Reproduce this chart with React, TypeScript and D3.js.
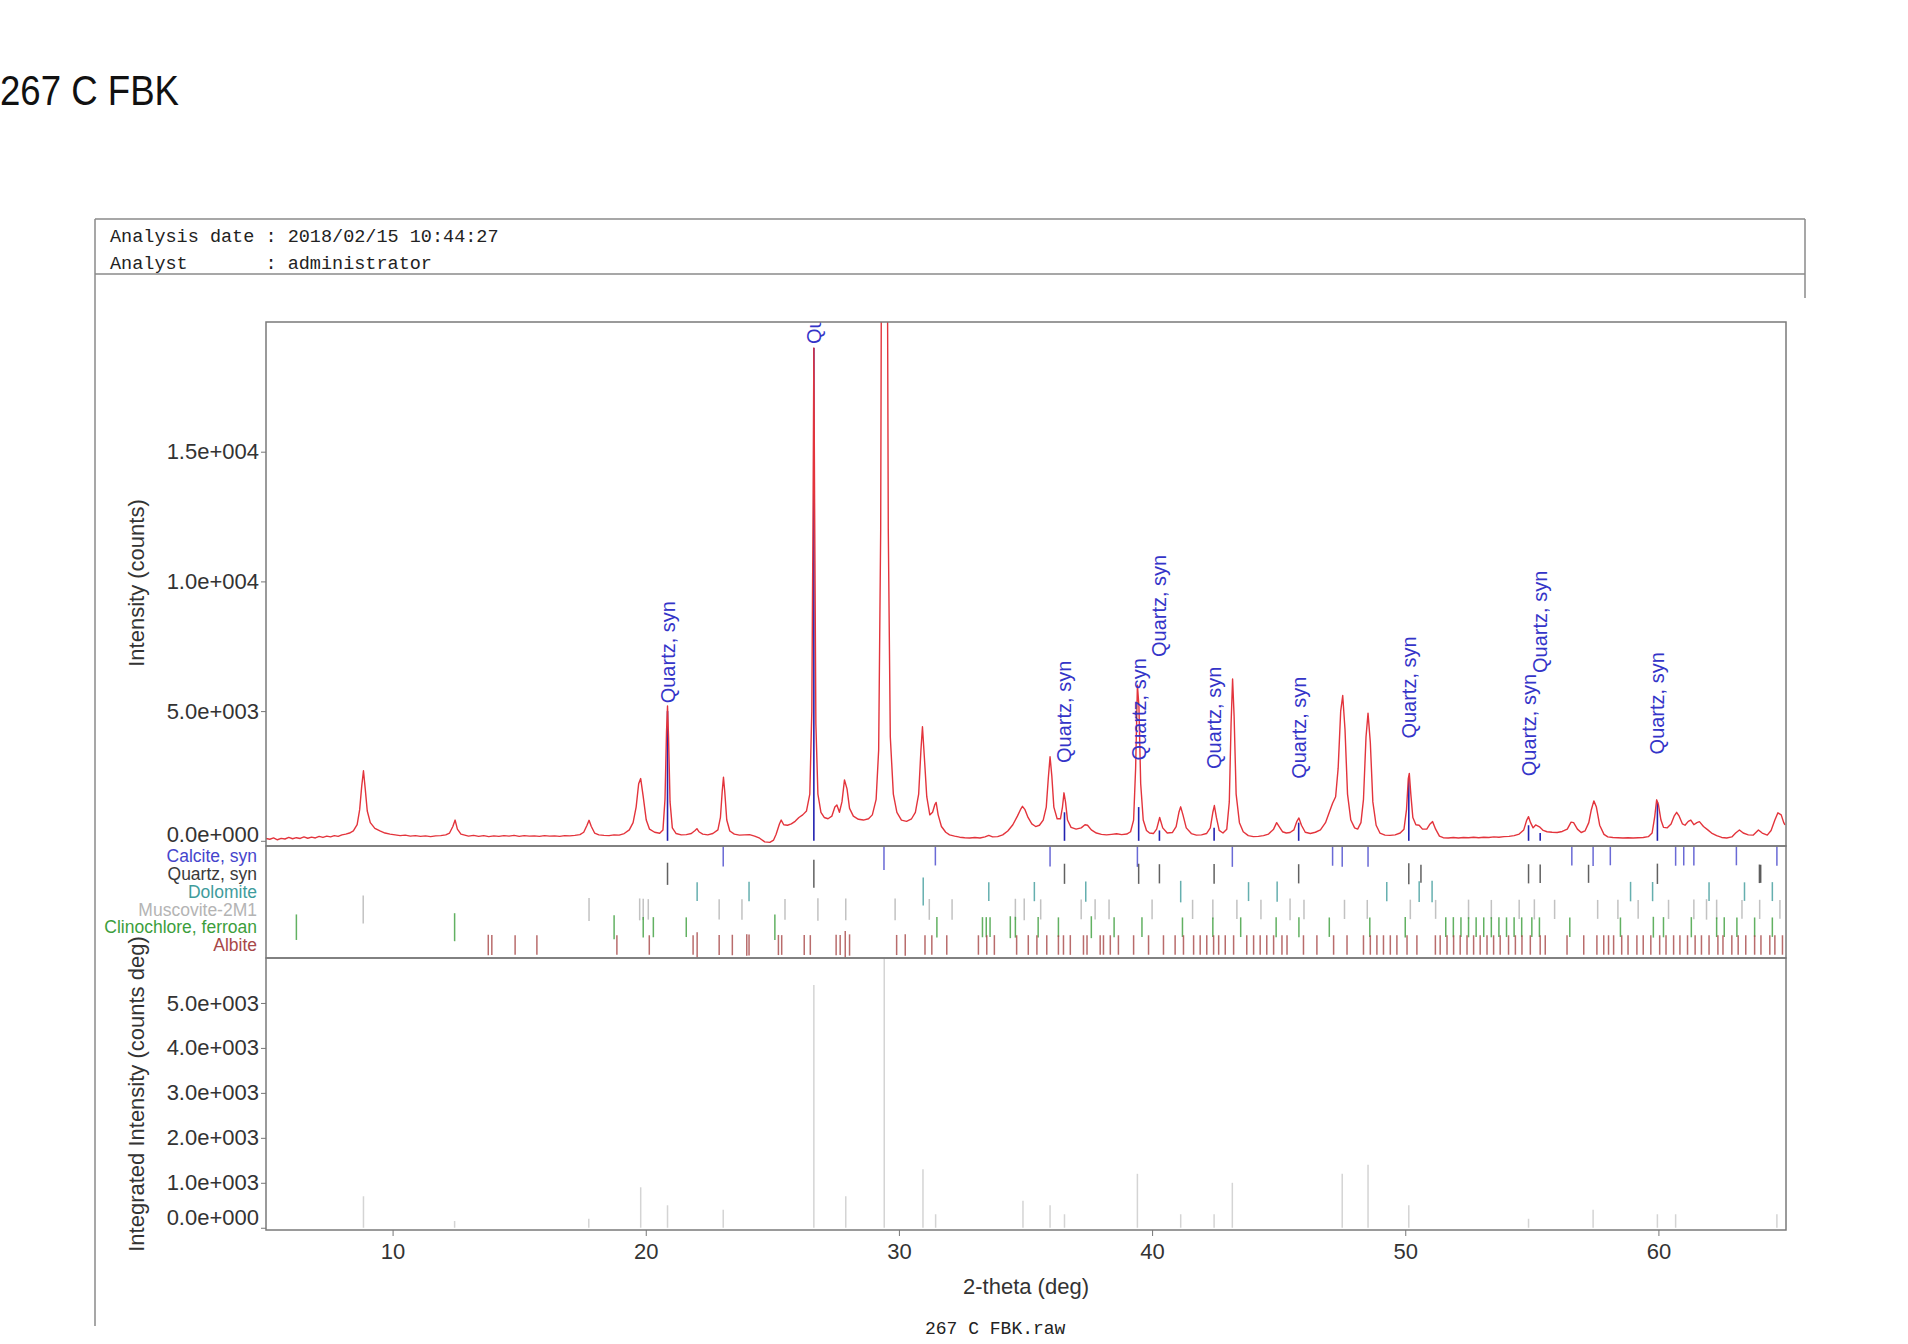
import { useEffect, useRef } from 'react';
import * as d3 from 'd3';

const SANS = "'Liberation Sans', Arial, Helvetica, sans-serif";
const MONO = "'Liberation Mono', 'Courier New', monospace";

// measured profile: [2-theta (deg), intensity (counts)]
const PATTERN: [number, number][] = [
  [5.0, 90], [5.15, 60], [5.3, 110], [5.45, 40], [5.6, 95], [5.75, 70], [5.9, 130], [6.05, 80],
  [6.2, 120], [6.35, 90], [6.5, 150], [6.65, 100], [6.8, 140], [6.95, 110], [7.1, 170], [7.25, 130],
  [7.4, 180], [7.55, 150], [7.7, 200], [7.85, 170], [8.0, 230], [8.15, 260], [8.3, 300], [8.45, 380],
  [8.6, 620], [8.7, 1200], [8.78, 2100], [8.85, 2700], [8.92, 2000], [9.0, 1150], [9.12, 700],
  [9.3, 480], [9.5, 380], [9.7, 300], [9.9, 260], [10.1, 230], [10.3, 200], [10.5, 220], [10.7, 180],
  [10.9, 200], [11.1, 170], [11.3, 190], [11.5, 160], [11.7, 190], [11.9, 200], [12.1, 230],
  [12.25, 300], [12.38, 550], [12.47, 800], [12.56, 450], [12.7, 260], [12.85, 220], [13.0, 180],
  [13.2, 210], [13.4, 170], [13.6, 200], [13.8, 160], [14.0, 190], [14.2, 170], [14.4, 200],
  [14.6, 180], [14.8, 210], [15.0, 170], [15.2, 200], [15.4, 180], [15.6, 190], [15.8, 170],
  [16.0, 200], [16.2, 180], [16.4, 190], [16.6, 170], [16.8, 200], [17.0, 190], [17.2, 210],
  [17.4, 240], [17.55, 330], [17.68, 600], [17.76, 790], [17.85, 550], [17.98, 300], [18.15, 230],
  [18.35, 210], [18.55, 200], [18.75, 230], [18.95, 220], [19.15, 280], [19.35, 420], [19.5, 700],
  [19.62, 1300], [19.72, 2200], [19.8, 2400], [19.9, 1700], [20.02, 800], [20.15, 450], [20.35, 330],
  [20.55, 290], [20.68, 420], [20.76, 1600], [20.82, 4200], [20.86, 5200], [20.9, 4000], [20.96, 1500],
  [21.05, 500], [21.2, 280], [21.4, 230], [21.6, 240], [21.8, 280], [21.95, 400], [22.02, 470],
  [22.1, 350], [22.25, 260], [22.45, 230], [22.65, 280], [22.85, 420], [22.95, 900], [23.02, 1900],
  [23.07, 2450], [23.12, 1900], [23.2, 800], [23.32, 380], [23.5, 260], [23.7, 220], [23.9, 230],
  [24.1, 240], [24.3, 180], [24.5, 100], [24.7, -40], [24.9, -60], [25.05, 30], [25.15, 250],
  [25.28, 650], [25.35, 800], [25.45, 620], [25.6, 600], [25.75, 650], [25.9, 750], [26.05, 900],
  [26.2, 1000], [26.35, 1150], [26.48, 1800], [26.56, 5000], [26.61, 13000], [26.64, 19000],
  [26.67, 13000], [26.72, 4500], [26.8, 1800], [26.92, 1100], [27.05, 900], [27.2, 850], [27.35, 950],
  [27.47, 1300], [27.55, 1380], [27.65, 1100], [27.75, 1500], [27.85, 2350], [27.95, 2000],
  [28.05, 1250], [28.2, 950], [28.4, 830], [28.6, 800], [28.8, 850], [28.95, 1000], [29.1, 1600],
  [29.2, 3500], [29.28, 12000], [29.33, 30000], [29.42, 42000], [29.52, 30000], [29.58, 12000],
  [29.66, 4000], [29.78, 1800], [29.92, 1100], [30.1, 800], [30.3, 750], [30.5, 850], [30.65, 1100],
  [30.78, 1800], [30.87, 3500], [30.93, 4400], [31.0, 3300], [31.1, 1700], [31.22, 1000],
  [31.33, 1100], [31.42, 1400], [31.47, 1480], [31.55, 1000], [31.68, 550], [31.85, 330], [32.0, 230],
  [32.2, 180], [32.4, 140], [32.6, 120], [32.8, 110], [33.0, 130], [33.2, 110], [33.4, 150],
  [33.55, 210], [33.7, 150], [33.9, 160], [34.1, 230], [34.3, 380], [34.5, 620], [34.68, 950],
  [34.8, 1200], [34.88, 1330], [34.98, 1200], [35.1, 900], [35.25, 650], [35.4, 550], [35.55, 600],
  [35.7, 800], [35.82, 1300], [35.9, 2400], [35.97, 3240], [36.04, 2500], [36.12, 1300], [36.25, 850],
  [36.38, 850], [36.46, 1300], [36.52, 1850], [36.58, 1500], [36.66, 800], [36.8, 520], [37.0, 450],
  [37.2, 500], [37.35, 620], [37.45, 600], [37.6, 420], [37.8, 300], [38.0, 250], [38.2, 230],
  [38.4, 250], [38.6, 270], [38.8, 240], [39.0, 260], [39.15, 350], [39.27, 800], [39.35, 2800],
  [39.42, 6000], [39.48, 5200], [39.55, 2200], [39.65, 800], [39.78, 400], [39.9, 300], [40.05, 280],
  [40.18, 450], [40.3, 900], [40.42, 500], [40.6, 300], [40.8, 320], [40.95, 550], [41.06, 1100],
  [41.13, 1310], [41.22, 1000], [41.35, 500], [41.55, 280], [41.75, 220], [41.95, 230], [42.15, 280],
  [42.3, 500], [42.4, 1100], [42.46, 1360], [42.54, 900], [42.65, 400], [42.8, 300], [42.95, 450],
  [43.05, 1500], [43.12, 4500], [43.18, 6240], [43.24, 4800], [43.32, 1800], [43.45, 700],
  [43.6, 350], [43.8, 200], [44.0, 160], [44.2, 170], [44.4, 200], [44.6, 260], [44.8, 450],
  [44.92, 700], [45.02, 550], [45.15, 350], [45.3, 300], [45.45, 320], [45.6, 420], [45.72, 750],
  [45.8, 880], [45.9, 600], [46.05, 330], [46.25, 280], [46.45, 330], [46.65, 420], [46.85, 700],
  [47.0, 1100], [47.13, 1450], [47.25, 1700], [47.35, 2800], [47.45, 5000], [47.53, 5600],
  [47.62, 4300], [47.72, 1800], [47.85, 800], [48.0, 500], [48.12, 450], [48.25, 700], [48.35, 1600],
  [48.45, 4000], [48.53, 4920], [48.62, 3800], [48.72, 1500], [48.85, 600], [49.0, 300], [49.2, 220],
  [49.4, 210], [49.6, 230], [49.8, 300], [49.95, 450], [50.05, 1200], [50.12, 2400], [50.16, 2600],
  [50.22, 1800], [50.3, 900], [50.42, 620], [50.55, 600], [50.68, 450], [50.85, 450], [50.98, 650],
  [51.08, 740], [51.2, 450], [51.35, 180], [51.5, 120], [51.7, 110], [51.9, 130], [52.1, 110],
  [52.3, 130], [52.5, 120], [52.7, 140], [52.9, 120], [53.1, 140], [53.3, 130], [53.5, 150],
  [53.7, 140], [53.9, 160], [54.1, 170], [54.3, 200], [54.5, 260], [54.68, 420], [54.8, 800],
  [54.87, 930], [54.95, 700], [55.05, 500], [55.15, 610], [55.3, 540], [55.45, 400], [55.6, 350],
  [55.8, 330], [56.0, 320], [56.2, 360], [56.4, 450], [56.55, 720], [56.65, 700], [56.8, 450],
  [56.95, 320], [57.1, 380], [57.25, 700], [57.35, 1200], [57.45, 1540], [57.55, 1300], [57.68, 600],
  [57.85, 250], [58.0, 150], [58.2, 130], [58.4, 120], [58.6, 110], [58.8, 120], [59.0, 110],
  [59.2, 120], [59.4, 130], [59.6, 160], [59.75, 300], [59.85, 900], [59.93, 1580], [60.0, 1400],
  [60.1, 800], [60.2, 520], [60.35, 500], [60.5, 650], [60.62, 950], [60.72, 1100], [60.82, 950],
  [60.95, 650], [61.05, 600], [61.18, 750], [61.28, 800], [61.4, 620], [61.52, 700], [61.62, 740],
  [61.78, 550], [61.95, 420], [62.1, 300], [62.3, 200], [62.5, 130], [62.7, 110], [62.9, 150],
  [63.05, 300], [63.2, 420], [63.35, 300], [63.55, 230], [63.75, 220], [63.95, 420], [64.1, 300],
  [64.3, 220], [64.45, 400], [64.6, 800], [64.72, 1080], [64.85, 1000], [64.95, 700], [65.0, 610],
];

// identified quartz peaks: [2-theta, marker height, label base] (counts)
const QUARTZ_PEAKS: [number, number, number][] = [
  [20.86, 5000, 5300],
  [26.64, 19000, 19150],
  [36.54, 1100, 3000],
  [39.47, 1300, 3100],
  [40.29, 400, 7085],
  [42.45, 500, 2770],
  [45.79, 700, 2390],
  [50.14, 2500, 3940],
  [54.87, 600, 2490],
  [55.33, 300, 6470],
  [59.96, 1500, 3330],
];
const PEAK_LABEL = 'Quartz, syn';

const PHASES = ['Calcite, syn', 'Quartz, syn', 'Dolomite', 'Muscovite-2M1', 'Clinochlore, ferroan', 'Albite'];
const PHASE_COLORS = ['#4545cc', '#3a3a3a', '#3f9c9c', '#b4b4b4', '#3c9e3c', '#a84848'];

// reference sticks per phase: [2-theta, relative intensity]
const CALCITE_STICKS: [number, number][] = [
  [23.06, 12], [29.41, 100], [31.44, 3], [35.97, 14], [39.42, 18], [43.17, 18], [47.13, 5],
  [47.51, 17], [48.53, 17], [56.58, 4], [57.42, 8], [58.1, 2], [60.68, 5], [61.0, 3], [61.4, 3],
  [63.08, 2], [64.68, 5],
];
const QUARTZ_STICKS: [number, number][] = [
  [20.86, 22], [26.64, 100], [36.54, 8], [39.47, 8], [40.29, 4], [42.45, 6], [45.79, 4], [50.14, 14],
  [50.62, 1], [54.87, 4], [55.33, 2], [57.24, 1], [59.96, 9], [63.99, 2], [64.04, 1],
];
const DOLOMITE_STICKS: [number, number][] = [
  [22.03, 3], [24.08, 5], [30.96, 100], [33.55, 3], [35.35, 4], [37.38, 9], [41.13, 17], [43.81, 3],
  [44.94, 8], [49.27, 4], [50.55, 11], [51.06, 17], [58.9, 5], [59.77, 4], [62.0, 3], [63.4, 2], [64.5, 3],
];
const MUSCOVITE_STICKS: [number, number][] = [
  [8.84, 100], [17.76, 30], [19.76, 20], [19.9, 15], [20.1, 10], [22.9, 8], [23.8, 10], [25.5, 12],
  [26.8, 25], [27.9, 20], [29.85, 20], [31.2, 12], [32.1, 10], [34.6, 15], [34.95, 20], [35.6, 8],
  [37.2, 6], [37.75, 8], [38.3, 6], [40.0, 6], [41.6, 4], [42.4, 6], [43.35, 4], [44.3, 5], [45.45, 18],
  [46.0, 5], [47.6, 4], [48.5, 3], [50.2, 5], [51.2, 3], [52.5, 5], [53.4, 3], [54.5, 4], [55.1, 8],
  [55.9, 4], [57.6, 3], [58.4, 4], [59.2, 3], [60.4, 4], [61.4, 6], [61.9, 10], [62.3, 5], [63.3, 3],
  [64.0, 4], [64.8, 3],
];
const CLINOCHLORE_STICKS: [number, number][] = [
  [6.2, 60], [12.45, 100], [18.75, 40], [19.9, 10], [20.3, 8], [21.6, 6], [25.1, 60], [31.5, 10],
  [33.3, 8], [33.45, 8], [33.6, 6], [34.4, 20], [34.6, 12], [35.5, 10], [36.3, 6], [37.6, 20], [38.5, 8],
  [39.6, 6], [41.2, 5], [42.4, 5], [43.5, 6], [44.9, 8], [45.8, 8], [47.0, 5], [48.6, 5], [50.0, 10],
  [51.6, 6], [51.9, 8], [52.2, 6], [52.5, 8], [52.8, 6], [53.1, 6], [53.4, 8], [53.7, 6], [54.0, 6],
  [54.3, 6], [54.6, 6], [55.0, 6], [55.3, 6], [56.5, 5], [58.5, 5], [59.8, 12], [60.2, 8], [61.3, 8],
  [62.3, 6], [62.6, 6], [63.1, 5], [63.8, 5], [64.5, 5],
];
const ALBITE_STICKS: [number, number][] = [
  [13.78, 10], [13.92, 8], [14.84, 6], [15.7, 6], [18.86, 5], [20.14, 5], [21.87, 6], [22.03, 60],
  [22.9, 8], [23.42, 10], [23.99, 15], [24.08, 12], [25.24, 8], [25.37, 6], [26.26, 8], [26.5, 6],
  [27.52, 10], [27.68, 8], [27.88, 100], [28.05, 15], [29.91, 8], [30.25, 15], [31.03, 6], [31.3, 6],
  [31.89, 5], [33.14, 5], [33.47, 5], [33.77, 6], [34.65, 5], [35.11, 6], [35.45, 6], [35.84, 5],
  [36.3, 5], [36.5, 5], [36.77, 6], [37.29, 5], [37.43, 5], [37.95, 5], [38.08, 5], [38.35, 5],
  [38.67, 5], [39.27, 5], [39.86, 5], [40.45, 5], [40.91, 5], [41.24, 5], [41.64, 5], [41.9, 6],
  [42.16, 5], [42.43, 5], [42.63, 5], [42.89, 5], [43.22, 5], [43.74, 5], [44.01, 5], [44.27, 5],
  [44.53, 5], [44.8, 5], [45.13, 5], [45.33, 5], [45.98, 5], [46.51, 5], [47.17, 5], [47.7, 5],
  [48.35, 5], [48.62, 5], [48.88, 5], [49.14, 5], [49.41, 5], [49.67, 5], [50.07, 5], [50.46, 5],
  [51.19, 5], [51.38, 5], [51.65, 5], [51.91, 5], [52.17, 5], [52.44, 5], [52.7, 5], [52.96, 5],
  [53.23, 5], [53.49, 5], [53.75, 5], [54.08, 5], [54.35, 5], [54.61, 5], [54.94, 5], [55.33, 5],
  [55.53, 5], [56.39, 5], [57.05, 5], [57.57, 5], [57.84, 5], [58.03, 5], [58.23, 5], [58.55, 5],
  [58.8, 5], [59.15, 5], [59.4, 5], [59.7, 5], [60.05, 5], [60.3, 5], [60.6, 5], [60.85, 5],
  [61.15, 5], [61.45, 5], [61.7, 5], [62.0, 5], [62.35, 5], [62.55, 5], [62.9, 5], [63.15, 5],
  [63.45, 5], [63.8, 5], [64.05, 5], [64.4, 5], [64.6, 5], [64.9, 5],
];
const STICKS = [CALCITE_STICKS, QUARTZ_STICKS, DOLOMITE_STICKS, MUSCOVITE_STICKS, CLINOCHLORE_STICKS, ALBITE_STICKS];

// integrated intensity bars: [2-theta, counts deg]
const INTEGRATED: [number, number][] = [
  [8.85, 700], [12.45, 150], [17.75, 200], [19.8, 900], [20.86, 500], [23.06, 400], [26.64, 5400],
  [27.9, 700], [29.42, 7000], [30.95, 1300], [31.45, 300], [34.9, 600], [35.97, 500], [36.54, 300],
  [39.42, 1200], [41.13, 300], [42.45, 300], [43.17, 1000], [47.51, 1200], [48.53, 1400], [50.14, 500],
  [54.87, 200], [57.42, 400], [59.96, 300], [60.68, 300], [64.68, 300],
];

const MAIN_Y_TICKS = [0, 5000, 10000, 15000];
const INT_Y_TICKS = [0, 1000, 2000, 3000, 4000, 5000];
const X_TICKS = [10, 20, 30, 40, 50, 60];

const HEADER_LINES = ['Analysis date : 2018/02/15 10:44:27', 'Analyst       : administrator'];

const fmtExp = (v: number) => {
  const [m, e] = v.toExponential(1).split('e');
  const sign = e[0] === '-' ? '-' : '+';
  return `${m}e${sign}${e.replace(/[+-]/, '').padStart(3, '0')}`;
};

export default function App() {
  const svgRef = useRef<SVGSVGElement>(null);

  useEffect(() => {
    if (!svgRef.current) return;
    document.body.style.margin = '0';

    const svg = d3.select(svgRef.current);
    svg.selectAll('*').remove();

    const left = 266;
    const right = 1786;
    const mainTop = 322;
    const mainBottom = 846;
    const stickBottom = 958;
    const intBottom = 1230;

    const x = d3.scaleLinear().domain([5, 65]).range([left, right - 1]);
    const yMain = d3.scaleLinear().domain([-200, 20000]).range([mainBottom, mainTop]);
    const yInt = d3.scaleLinear().domain([-50, 6000]).range([intBottom, stickBottom]);
    const rowY = d3.scalePoint<string>().domain(PHASES).range([856, 945]);
    const stickLen = d3.scaleSqrt().domain([0, 100]).range([17, 28]);

    const defs = svg.append('defs');
    const addClip = (id: string, y0: number, y1: number) =>
      defs
        .append('clipPath')
        .attr('id', id)
        .append('rect')
        .attr('x', left)
        .attr('y', y0)
        .attr('width', right - left)
        .attr('height', y1 - y0);
    addClip('clip-main', mainTop, mainBottom);
    addClip('clip-sticks', mainBottom, stickBottom);
    addClip('clip-int', stickBottom, intBottom);

    // page title and report header
    svg
      .append('text')
      .attr('x', 0)
      .attr('y', 105)
      .attr('font-family', SANS)
      .attr('font-size', 42)
      .attr('textLength', 179)
      .attr('lengthAdjust', 'spacingAndGlyphs')
      .attr('fill', '#111')
      .text('267 C FBK');

    const frame = svg.append('g').attr('stroke', '#8a8a8a').attr('stroke-width', 1.5).attr('fill', 'none');
    frame.append('line').attr('x1', 95).attr('y1', 219).attr('x2', 1805).attr('y2', 219);
    frame.append('line').attr('x1', 95).attr('y1', 274).attr('x2', 1805).attr('y2', 274);
    frame.append('line').attr('x1', 95).attr('y1', 219).attr('x2', 95).attr('y2', 1326);
    frame.append('line').attr('x1', 1805).attr('y1', 219).attr('x2', 1805).attr('y2', 298);

    // non-breaking spaces keep the colons aligned
    svg
      .append('g')
      .attr('font-family', MONO)
      .attr('font-size', 18.5)
      .attr('fill', '#222')
      .selectAll('text')
      .data(HEADER_LINES)
      .join('text')
      .attr('x', 110)
      .attr('y', (_, i) => 242 + i * 27)
      .text((d) => d.replace(/ /g, '\u00a0'));

    svg
      .append('text')
      .attr('x', 925)
      .attr('y', 1334)
      .attr('font-family', MONO)
      .attr('font-size', 18)
      .attr('fill', '#222')
      .text('267 C FBK.raw');

    // integrated intensity bars
    svg
      .append('g')
      .attr('clip-path', 'url(#clip-int)')
      .selectAll('line')
      .data(INTEGRATED)
      .join('line')
      .attr('x1', (d) => x(d[0]))
      .attr('x2', (d) => x(d[0]))
      .attr('y1', yInt(0))
      .attr('y2', (d) => yInt(d[1]))
      .attr('stroke', '#d4d4d4')
      .attr('stroke-width', 1.5);

    // phase reference sticks
    const sticks = svg.append('g').attr('clip-path', 'url(#clip-sticks)');
    PHASES.forEach((phase, i) => {
      const cy = rowY(phase) as number;
      sticks
        .append('g')
        .selectAll('line')
        .data(STICKS[i])
        .join('line')
        .attr('x1', (d) => x(d[0]))
        .attr('x2', (d) => x(d[0]))
        .attr('y1', (d) => cy - stickLen(d[1]) / 2)
        .attr('y2', (d) => cy + stickLen(d[1]) / 2)
        .attr('stroke', PHASE_COLORS[i])
        .attr('stroke-width', 1.5)
        .attr('opacity', 0.8);
    });

    svg
      .append('g')
      .attr('font-family', SANS)
      .attr('font-size', 17.5)
      .attr('text-anchor', 'end')
      .selectAll('text')
      .data(PHASES)
      .join('text')
      .attr('x', 257)
      .attr('y', (d) => rowY(d) as number)
      .attr('dy', '0.35em')
      .attr('fill', (_, i) => PHASE_COLORS[i])
      .text((d) => d);

    // measured pattern with quartz markers
    const main = svg.append('g').attr('clip-path', 'url(#clip-main)');
    main
      .append('g')
      .selectAll('line')
      .data(QUARTZ_PEAKS)
      .join('line')
      .attr('x1', (d) => x(d[0]))
      .attr('x2', (d) => x(d[0]))
      .attr('y1', yMain(0))
      .attr('y2', (d) => yMain(d[1]))
      .attr('stroke', '#2222b0')
      .attr('stroke-width', 1.6);

    const line = d3
      .line<[number, number]>()
      .x((d) => x(d[0]))
      .y((d) => yMain(d[1]));
    main
      .append('path')
      .datum(PATTERN)
      .attr('d', line)
      .attr('fill', 'none')
      .attr('stroke', '#e3343c')
      .attr('stroke-width', 1.4)
      .attr('stroke-linejoin', 'round');

    main
      .append('g')
      .selectAll('text')
      .data(QUARTZ_PEAKS)
      .join('text')
      .attr('transform', (d) => `translate(${x(d[0])},${yMain(d[2])}) rotate(-90)`)
      .attr('dy', '0.35em')
      .attr('font-family', SANS)
      .attr('font-size', 20)
      .attr('fill', '#3434c8')
      .text(PEAK_LABEL);

    // panel borders
    const borders = svg.append('g').attr('fill', 'none').attr('stroke', '#7a7a7a').attr('stroke-width', 1.5);
    [
      [mainTop, mainBottom],
      [mainBottom, stickBottom],
      [stickBottom, intBottom],
    ].forEach(([y0, y1]) => {
      borders.append('rect').attr('x', left).attr('y', y0).attr('width', right - left).attr('height', y1 - y0);
    });

    // axes
    const styleAxis = (g: d3.Selection<SVGGElement, unknown, null, undefined>) => {
      g.select('.domain').remove();
      g.attr('font-family', SANS).attr('font-size', 22);
      g.selectAll('.tick line').attr('stroke', '#777');
      g.selectAll('.tick text').attr('fill', '#333');
    };

    const yAxisMain = d3
      .axisLeft(yMain)
      .tickValues(MAIN_Y_TICKS)
      .tickFormat((d) => fmtExp(d as number))
      .tickSizeInner(5)
      .tickSizeOuter(0)
      .tickPadding(2);
    const gMain = svg.append('g').attr('transform', `translate(${left},0)`).call(yAxisMain);
    styleAxis(gMain);
    gMain.selectAll<SVGTextElement, number>('.tick text').attr('y', (d) => Math.min(0, mainBottom - 12 - yMain(d)));

    const yAxisInt = d3
      .axisLeft(yInt)
      .tickValues(INT_Y_TICKS)
      .tickFormat((d) => fmtExp(d as number))
      .tickSizeInner(5)
      .tickSizeOuter(0)
      .tickPadding(2);
    const gInt = svg.append('g').attr('transform', `translate(${left},0)`).call(yAxisInt);
    styleAxis(gInt);
    gInt.selectAll<SVGTextElement, number>('.tick text').attr('y', (d) => Math.min(0, intBottom - 13 - yInt(d)));

    const xAxis = d3
      .axisBottom(x)
      .tickValues(X_TICKS)
      .tickFormat((d) => String(d))
      .tickSizeInner(6)
      .tickSizeOuter(0)
      .tickPadding(7);
    const gX = svg.append('g').attr('transform', `translate(0,${intBottom})`).call(xAxis);
    styleAxis(gX);

    const titles = svg.append('g').attr('font-family', SANS).attr('font-size', 22).attr('fill', '#333').attr('text-anchor', 'middle');
    titles.append('text').attr('transform', 'translate(136,583) rotate(-90)').attr('dy', '0.35em').text('Intensity (counts)');
    titles
      .append('text')
      .attr('transform', 'translate(136,1094) rotate(-90)')
      .attr('dy', '0.35em')
      .text('Integrated Intensity (counts deg)');
    titles.append('text').attr('x', 1026).attr('y', 1286).attr('dy', '0.35em').text('2-theta (deg)');
  }, []);

  return <svg ref={svgRef} width={1908} height={1344} style={{ display: 'block', background: '#fff' }} />;
}
